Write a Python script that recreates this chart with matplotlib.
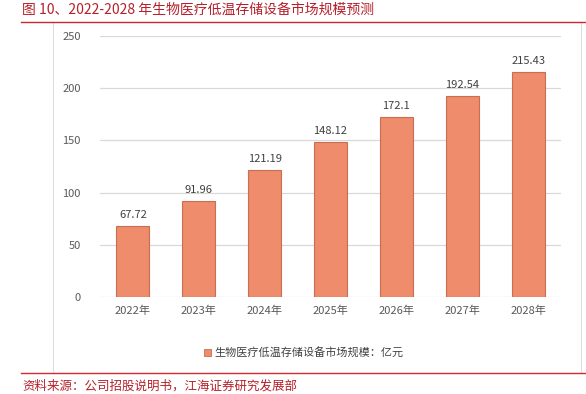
import matplotlib
matplotlib.use("Agg")
import matplotlib.pyplot as plt
from matplotlib.lines import Line2D
from matplotlib.patches import Rectangle

plt.rcParams['font.family'] = ['Noto Sans CJK SC', 'DejaVu Sans']

years = ['2022年', '2023年', '2024年', '2025年', '2026年', '2027年', '2028年']
values = [67.72, 91.96, 121.19, 148.12, 172.1, 192.54, 215.43]
value_labels = ['67.72', '91.96', '121.19', '148.12', '172.1', '192.54', '215.43']
yticks = [0, 50, 100, 150, 200, 250]
series_name = '生物医疗低温存储设备市场规模：亿元'
title = '图 10、2022-2028 年生物医疗低温存储设备市场规模预测'
source = '资料来源：公司招股说明书，江海证券研究发展部'

W, H = 586, 394
fig = plt.figure(figsize=(W/100, H/100), dpi=100)

def fx(px): return px / W
def fy(py): return 1 - py / H

ax = fig.add_axes([fx(100), fy(297), fx(561) - fx(100), fy(36) - fy(297)])
x = list(range(len(years)))
ax.bar(x, values, width=0.5, color='#EE8C6C', edgecolor='#C96E50', linewidth=0.8, zorder=3)
for xi, v, lab in zip(x, values, value_labels):
    ax.text(xi, v + 6, lab, ha='center', va='bottom', fontsize=8, color='#404040')
ax.set_xlim(-0.5, len(years) - 0.5)
ax.set_ylim(0, 250)
ax.set_yticks(yticks)
ax.set_xticks(x)
ax.set_xticklabels(years)
ax.grid(axis='y', color='#D9D9D9', linewidth=0.9, zorder=0)
for s in ax.spines.values():
    s.set_visible(False)
ax.tick_params(axis='both', length=0, labelsize=8, labelcolor='#595959')
ax.tick_params(axis='y', pad=14)
ax.tick_params(axis='x', pad=6)

# legend
fig.patches.append(Rectangle((fx(204), fy(356)), 7/W, 7/H, transform=fig.transFigure,
                             facecolor='#EE8C6C', edgecolor='#C96E50', linewidth=0.6))
fig.text(fx(214), fy(352.5), series_name, ha='left', va='center', fontsize=8, color='#404040')

# frame lines
fig.add_artist(Line2D([fx(53), fx(53)], [fy(22), fy(373)], color='#DDDDDD', linewidth=0.8))
fig.add_artist(Line2D([fx(581), fx(581)], [fy(22), fy(373)], color='#DDDDDD', linewidth=0.8))
fig.add_artist(Line2D([fx(21), fx(586)], [fy(22), fy(22)], color='#C8282E', linewidth=1.0))
fig.add_artist(Line2D([fx(21), fx(586)], [fy(373), fy(373)], color='#D8282E', linewidth=1.0))

fig.text(fx(22), fy(10), title, ha='left', va='center', fontsize=10, color='#B5202A')
fig.text(fx(22), fy(386), source, ha='left', va='center', fontsize=9, color='#B5202A')

fig.savefig('out.png', dpi=100)
